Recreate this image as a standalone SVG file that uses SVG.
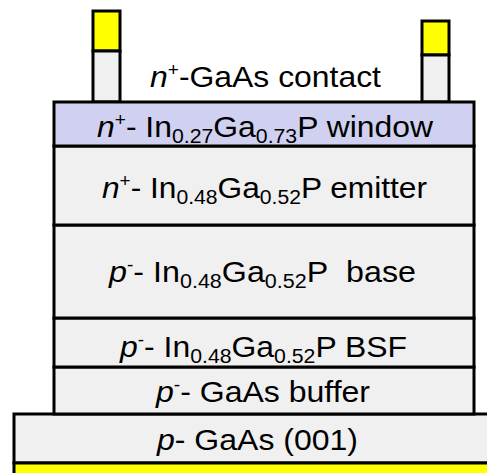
<svg xmlns="http://www.w3.org/2000/svg" width="487" height="473" viewBox="0 0 487 473">
<style>
.l{stroke:#000;stroke-width:3}
.g{fill:#f0f0f0}
.y{fill:#ffff00}
.w{fill:#d0d0f0}
text{font-family:"Liberation Sans",Arial,sans-serif;font-size:30px;fill:#000}
.i{font-style:italic}
.sup{font-size:18px}
.sub{font-size:20px}
</style>
<rect width="487" height="473" fill="#fff"/>
<g id="contact-left">
<rect class="l y" x="93" y="11" width="27" height="40"/>
<rect class="l g" x="93" y="51" width="27" height="51"/>
</g>
<g id="contact-right">
<rect class="l y" x="422" y="21" width="27" height="34"/>
<rect class="l g" x="422" y="55" width="27" height="47"/>
</g>
<g id="contact-label">
<text x="150" y="87" textLength="231" lengthAdjust="spacingAndGlyphs"><tspan class="i">n</tspan><tspan class="sup" dy="-11">+</tspan><tspan dy="11">-GaAs contact</tspan></text>
</g>
<g id="substrate">
<rect class="l g" x="14" y="414" width="480" height="49"/>
<text x="157" y="450" textLength="201" lengthAdjust="spacingAndGlyphs"><tspan class="i">p</tspan>- GaAs (001)</text>
</g>
<g id="back-contact">
<rect class="l y" x="14" y="463" width="480" height="14"/>
</g>
<g id="buffer">
<rect class="l g" x="54" y="367" width="420" height="47"/>
<text x="156" y="402" textLength="214" lengthAdjust="spacingAndGlyphs"><tspan class="i">p</tspan><tspan class="sup" dy="-11">-</tspan><tspan dy="11">- GaAs buffer</tspan></text>
</g>
<g id="bsf">
<rect class="l g" x="54" y="318" width="420" height="49"/>
<text x="120" y="357" textLength="287" lengthAdjust="spacingAndGlyphs"><tspan class="i">p</tspan><tspan class="sup" dy="-11">-</tspan><tspan dy="11">- In</tspan><tspan class="sub" dy="6">0.48</tspan><tspan dy="-6">Ga</tspan><tspan class="sub" dy="6">0.52</tspan><tspan dy="-6">P BSF</tspan></text>
</g>
<g id="base">
<rect class="l g" x="54" y="225" width="420" height="93"/>
<text x="109" y="282" textLength="307" lengthAdjust="spacingAndGlyphs"><tspan class="i">p</tspan><tspan class="sup" dy="-11">-</tspan><tspan dy="11">- In</tspan><tspan class="sub" dy="6">0.48</tspan><tspan dy="-6">Ga</tspan><tspan class="sub" dy="6">0.52</tspan><tspan dy="-6">P&#160; base</tspan></text>
</g>
<g id="emitter">
<rect class="l g" x="54" y="146" width="420" height="79"/>
<text x="102" y="198" textLength="325" lengthAdjust="spacingAndGlyphs"><tspan class="i">n</tspan><tspan class="sup" dy="-11">+</tspan><tspan dy="11">- In</tspan><tspan class="sub" dy="6">0.48</tspan><tspan dy="-6">Ga</tspan><tspan class="sub" dy="6">0.52</tspan><tspan dy="-6">P emitter</tspan></text>
</g>
<g id="window">
<rect class="l w" x="54" y="102" width="420" height="44"/>
<text x="97" y="137" textLength="336" lengthAdjust="spacingAndGlyphs"><tspan class="i">n</tspan><tspan class="sup" dy="-11">+</tspan><tspan dy="11">- In</tspan><tspan class="sub" dy="6">0.27</tspan><tspan dy="-6">Ga</tspan><tspan class="sub" dy="6">0.73</tspan><tspan dy="-6">P window</tspan></text>
</g>
</svg>
